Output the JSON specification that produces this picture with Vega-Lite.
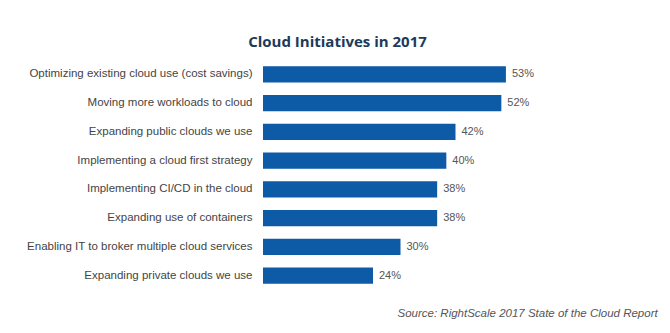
{
  "$schema": "https://vega.github.io/schema/vega-lite/v6.json",
  "autosize": "none",
  "width": 275,
  "height": 230,
  "padding": {"left": 263, "top": 60, "right": 132, "bottom": 43},
  "background": "white",
  "title": {
    "text": "Cloud Initiatives in 2017",
    "font": "Open Sans",
    "fontSize": 15,
    "fontWeight": "bold",
    "color": "#1c3a5a",
    "anchor": "middle",
    "frame": "group",
    "dx": -63,
    "offset": 10
  },
  "data": {
    "values": [
      {"initiative": "Optimizing existing cloud use (cost savings)", "share": 0.53},
      {"initiative": "Moving more workloads to cloud", "share": 0.52},
      {"initiative": "Expanding public clouds we use", "share": 0.42},
      {"initiative": "Implementing a cloud first strategy", "share": 0.40},
      {"initiative": "Implementing CI/CD in the cloud", "share": 0.38},
      {"initiative": "Expanding use of containers", "share": 0.38},
      {"initiative": "Enabling IT to broker multiple cloud services", "share": 0.30},
      {"initiative": "Expanding private clouds we use", "share": 0.24}
    ]
  },
  "encoding": {
    "y": {
      "field": "initiative",
      "type": "nominal",
      "sort": null,
      "scale": {"paddingInner": 0.44, "paddingOuter": 0.22},
      "axis": {
        "title": null,
        "ticks": false,
        "domain": false,
        "labelPadding": 11,
        "labelFont": "Liberation Sans",
        "labelFontSize": 11.5,
        "labelColor": "#444444",
        "labelLimit": 300
      }
    },
    "x": {
      "field": "share",
      "type": "quantitative",
      "scale": {"domain": [0, 0.6]},
      "axis": {
        "title": "Source: RightScale 2017 State of the Cloud Report",
        "titleFont": "Liberation Sans",
        "titleFontStyle": "italic",
        "titleFontWeight": "normal",
        "titleFontSize": 11.5,
        "titleColor": "#555555",
        "titleAnchor": "start",
        "titleAlign": "left",
        "titleBaseline": "middle",
        "titleX": 134,
        "titleY": 23,
        "labels": false,
        "ticks": false,
        "domain": false,
        "grid": false
      }
    }
  },
  "layer": [
    {"mark": {"type": "bar", "color": "#0d5aa7"}},
    {
      "mark": {"type": "text", "align": "left", "baseline": "middle", "dx": 6, "font": "Liberation Sans", "fontSize": 11, "color": "#555555"},
      "encoding": {"text": {"field": "share", "type": "quantitative", "format": ".0%"}}
    }
  ],
  "config": {"view": {"stroke": null}}
}
